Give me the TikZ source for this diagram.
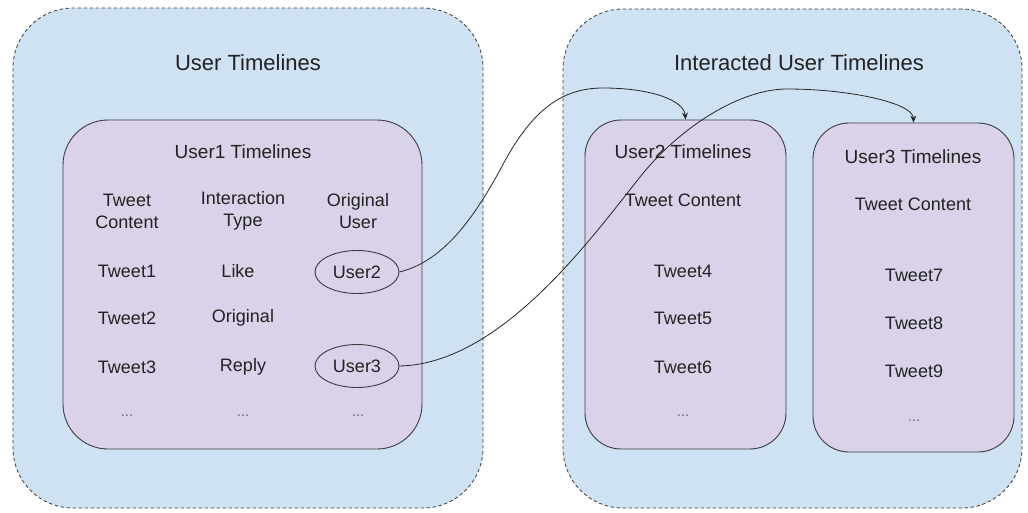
\documentclass[tikz,border=0pt]{standalone}
\usepackage{fontspec}
\setmainfont{Liberation Sans}
\usetikzlibrary{arrows.meta,shapes.geometric}
\definecolor{outerfill}{HTML}{CFE2F3}
\definecolor{innerfill}{HTML}{D9D2E9}
\definecolor{edgegray}{HTML}{3C3C3C}
\definecolor{txt}{HTML}{222222}
\definecolor{dotgray}{HTML}{707070}
\tikzset{
  outerbox/.style={draw=edgegray, fill=outerfill, dashed, dash pattern=on 3.5pt off 2.5pt, line width=0.8pt, rounded corners=60pt, inner sep=0pt},
  innerbox/.style={draw=edgegray, fill=innerfill, line width=0.9pt, inner sep=0pt},
  titletxt/.style={text=txt, font=\fontsize{22}{26}\selectfont},
  subtxt/.style={text=txt, font=\fontsize{19}{22}\selectfont},
  bodytxt/.style={text=txt, font=\fontsize{18}{22}\selectfont, align=center},
  dotstxt/.style={text=dotgray, font=\fontsize{15}{17}\selectfont},
  userell/.style={ellipse, draw=edgegray, line width=0.9pt, inner sep=0pt, minimum width=84pt, minimum height=43pt, text=txt, font=\fontsize{18}{22}\selectfont},
  link/.style={draw=black!85, line width=0.8pt, -{Stealth[length=7pt,width=6pt]}}
}
\begin{document}
\begin{tikzpicture}[x=1pt,y=-1pt]
\useasboundingbox (0,0) rectangle (1028,512);
% outer containers
\node[outerbox, minimum width=470pt, minimum height=500pt] (outerL) at (248,258) {};
\node[outerbox, minimum width=459pt, minimum height=499pt] (outerR) at (792.5,258.5) {};
\node[titletxt] (titleL) at (248,63) {User Timelines};
\node[titletxt] (titleR) at (799,63) {Interacted User Timelines};
% inner boxes
\node[innerbox, rounded corners=45pt, minimum width=359pt, minimum height=329pt] (box1) at (242.5,284.5) {};
\node[innerbox, rounded corners=36pt, minimum width=201pt, minimum height=329pt] (box2) at (685.5,284.5) {};
\node[innerbox, rounded corners=36pt, minimum width=201pt, minimum height=329pt] (box3) at (913.5,287.5) {};
% User1 timelines
\node[subtxt] (u1title) at (243,152) {User1 Timelines};
\node[bodytxt] (h1) at (127,211) {Tweet\\Content};
\node[bodytxt] (h2) at (243,211) {Interaction\\Type};
\node[bodytxt] (h3) at (358,211) {Original\\User};
\node[bodytxt] (tw1) at (127,271) {Tweet1};
\node[bodytxt] (it1) at (238,271) {Like};
\node[userell] (u2) at (357,272) {User2};
\node[bodytxt] (tw2) at (127,318) {Tweet2};
\node[bodytxt] (it2) at (243,318) {Original};
\node[bodytxt] (tw3) at (127,367) {Tweet3};
\node[bodytxt] (it3) at (243,367) {Reply};
\node[userell] (u3) at (357,366) {User3};
\node[dotstxt] (d1) at (127,416) {...};
\node[dotstxt] (d2) at (243,416) {...};
\node[dotstxt] (d3) at (358,416) {...};
% User2 timelines
\node[subtxt] (u2title) at (683,152) {User2 Timelines};
\node[bodytxt] (c2) at (683,200) {Tweet Content};
\node[bodytxt] (tw4) at (683,271) {Tweet4};
\node[bodytxt] (tw5) at (683,318) {Tweet5};
\node[bodytxt] (tw6) at (683,367) {Tweet6};
\node[dotstxt] (d4) at (683,416) {...};
% User3 timelines
\node[subtxt] (u3title) at (913,157) {User3 Timelines};
\node[bodytxt] (c3) at (913,204) {Tweet Content};
\node[bodytxt] (tw7) at (914,275) {Tweet7};
\node[bodytxt] (tw8) at (914,323) {Tweet8};
\node[bodytxt] (tw9) at (914,371) {Tweet9};
\node[dotstxt] (d5) at (914,421) {...};
% connectors
\draw[link] (u2.east) .. controls (440,262) and (470,225) .. (500,170)
  .. controls (530,112) and (560,88) .. (603,88)
  .. controls (650,88) and (684,100) .. (box2.north);
\draw[link] (u3.east) .. controls (500,364) and (590,240) .. (640,177)
  .. controls (680,127) and (740,89) .. (787,89)
  .. controls (850,89) and (913,103) .. (box3.north);
\end{tikzpicture}
\end{document}
